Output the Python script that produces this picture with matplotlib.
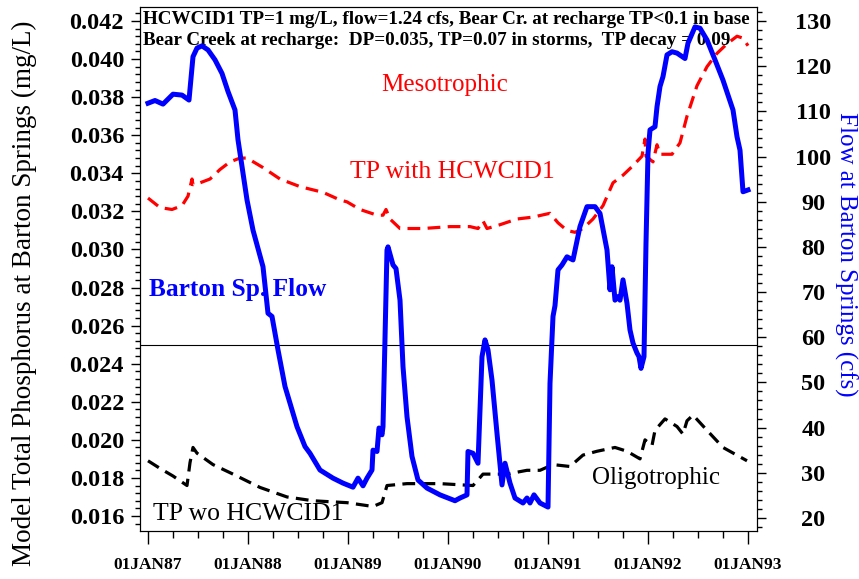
import matplotlib
matplotlib.use("Agg")
import matplotlib.pyplot as plt
from matplotlib.ticker import MultipleLocator

plt.rcParams['font.family'] = ['Liberation Serif', 'DejaVu Serif']

# Barton Springs flow (cfs), decimal years
flow_years = [1987.00, 1987.07, 1987.15, 1987.25, 1987.34, 1987.41, 1987.45, 1987.49, 1987.54, 1987.60,
              1987.67, 1987.74, 1987.80, 1987.87, 1987.90, 1987.94, 1987.99, 1988.05, 1988.15, 1988.20,
              1988.24, 1988.30, 1988.37, 1988.42, 1988.49, 1988.57, 1988.62, 1988.72, 1988.85, 1988.95,
              1989.05, 1989.10, 1989.15, 1989.19, 1989.24, 1989.25, 1989.29, 1989.31, 1989.34, 1989.35,
              1989.39, 1989.40, 1989.45, 1989.48, 1989.52, 1989.55, 1989.59, 1989.64, 1989.70, 1989.79,
              1989.92, 1990.07, 1990.12, 1990.19, 1990.20, 1990.25, 1990.30, 1990.34, 1990.37, 1990.40,
              1990.44, 1990.49, 1990.54, 1990.57, 1990.62, 1990.67, 1990.75, 1990.79, 1990.82, 1990.86,
              1990.92, 1991.00, 1991.02, 1991.05, 1991.07, 1991.10, 1991.14, 1991.19, 1991.25, 1991.32,
              1991.39, 1991.47, 1991.52, 1991.59, 1991.62, 1991.64, 1991.67, 1991.70, 1991.72, 1991.75,
              1991.79, 1991.82, 1991.85, 1991.89, 1991.91, 1991.93, 1991.96, 1991.98, 1992.00, 1992.02,
              1992.07, 1992.09, 1992.12, 1992.15, 1992.19, 1992.24, 1992.29, 1992.37, 1992.40, 1992.47,
              1992.52, 1992.59, 1992.67, 1992.75, 1992.85, 1992.89, 1992.92, 1992.95, 1993.00]
flow_cfs = [111.8, 112.4, 111.6, 113.8, 113.6, 112.5, 122.1, 124.0, 124.5, 123.6,
            121.4, 118.4, 114.4, 110.3, 103.7, 97.8, 90.4, 83.7, 75.6, 65.3,
            64.6, 57.2, 49.1, 45.4, 40.2, 35.8, 34.3, 30.6, 28.8, 27.7,
            26.8, 28.8, 27.1, 28.8, 30.6, 35.0, 34.7, 39.9, 38.4, 40.2,
            79.3, 80.0, 76.0, 75.2, 68.2, 53.5, 42.4, 33.6, 28.4, 26.6,
            25.1, 23.8, 24.4, 25.1, 34.7, 34.3, 32.1, 55.7, 59.4, 57.2,
            50.5, 38.7, 27.3, 32.1, 27.7, 24.4, 23.3, 24.4, 23.3, 25.1,
            23.3, 22.4, 49.8, 64.6, 67.0, 74.9, 76.0, 77.8, 77.1, 84.5,
            88.9, 88.9, 87.4, 79.3, 70.5, 75.6, 68.2, 69.0, 68.2, 72.7,
            67.5, 61.6, 58.7, 56.5, 55.7, 53.1, 55.7, 80.8, 100.7, 105.9,
            106.6, 111.0, 115.5, 117.7, 122.5, 123.2, 122.9, 121.7, 125.1, 128.7,
            128.4, 125.8, 121.4, 116.9, 110.3, 104.4, 101.4, 92.2, 92.6]

# TP with HCWCID1 (mg/L)
tp_with_years = [1987.00, 1987.12, 1987.24, 1987.34, 1987.40, 1987.44, 1987.45, 1987.52, 1987.62, 1987.72,
                 1987.82, 1987.92, 1987.99, 1988.15, 1988.32, 1988.52, 1988.75, 1988.92, 1988.99, 1989.12,
                 1989.29, 1989.35, 1989.38, 1989.42, 1989.52, 1989.75, 1990.02, 1990.22, 1990.30, 1990.35,
                 1990.39, 1990.52, 1990.69, 1990.85, 1991.02, 1991.10, 1991.19, 1991.27, 1991.35, 1991.45,
                 1991.55, 1991.65, 1991.75, 1991.85, 1991.94, 1991.97, 1991.98, 1992.05, 1992.09, 1992.12,
                 1992.24, 1992.32, 1992.39, 1992.49, 1992.59, 1992.69, 1992.79, 1992.89, 1992.95, 1993.00]
tp_with = [0.0327, 0.0322, 0.0321, 0.0323, 0.0328, 0.0337, 0.0334, 0.0335, 0.0337, 0.0342,
           0.0346, 0.0348, 0.0348, 0.0343, 0.0337, 0.0333, 0.0330, 0.0326, 0.0325, 0.0321,
           0.0318, 0.0318, 0.0321, 0.0316, 0.0311, 0.0311, 0.0312, 0.0312, 0.0311, 0.0315,
           0.0311, 0.0313, 0.0316, 0.0317, 0.0319, 0.0314, 0.0310, 0.0309, 0.0311, 0.0316,
           0.0323, 0.0335, 0.0339, 0.0344, 0.0349, 0.0358, 0.0349, 0.0346, 0.0355, 0.0350,
           0.0350, 0.0356, 0.0370, 0.0386, 0.0396, 0.0403, 0.0408, 0.0412, 0.0411, 0.0407]

# TP without HCWCID1 (mg/L)
tp_wo_years = [1987.00, 1987.12, 1987.25, 1987.39, 1987.42, 1987.45, 1987.49, 1987.65, 1987.85, 1988.12,
               1988.39, 1988.65, 1988.99, 1989.25, 1989.34, 1989.39, 1989.59, 1989.92, 1990.25, 1990.35,
               1990.59, 1990.79, 1990.92, 1991.05, 1991.22, 1991.35, 1991.49, 1991.67, 1991.79, 1991.92,
               1991.97, 1992.04, 1992.07, 1992.17, 1992.29, 1992.35, 1992.39, 1992.45, 1992.59, 1992.75,
               1992.99]
tp_wo = [0.0189, 0.0185, 0.0181, 0.0176, 0.0188, 0.0196, 0.0193, 0.0187, 0.0182, 0.0175,
         0.0170, 0.0168, 0.0167, 0.0165, 0.0167, 0.0176, 0.0177, 0.0177, 0.0176, 0.0182,
         0.0182, 0.0184, 0.0184, 0.0187, 0.0186, 0.0192, 0.0194, 0.0196, 0.0194, 0.0190,
         0.0200, 0.0197, 0.0205, 0.0211, 0.0207, 0.0203, 0.0210, 0.0213, 0.0205, 0.0196,
         0.0189]

year_ticks = [1987, 1988, 1989, 1990, 1991, 1992, 1993]
year_labels = ['01JAN87', '01JAN88', '01JAN89', '01JAN90', '01JAN91', '01JAN92', '01JAN93']
tp_ticks = [0.016 + 0.002 * i for i in range(14)]
flow_ticks = list(range(20, 140, 10))

header1 = "HCWCID1 TP=1 mg/L, flow=1.24 cfs, Bear Cr. at recharge TP<0.1 in base"
header2 = "Bear Creek at recharge:  DP=0.035, TP=0.07 in storms,  TP decay = 0.09"

fig = plt.figure(figsize=(8.59, 5.79), dpi=100)
ax = fig.add_axes([140/859, 48/579, 617/859, 524/579])
ax2 = ax.twinx()

ax.plot(tp_with_years, tp_with, color='red', lw=2.3, ls=(0, (4, 2.3)), zorder=3)
ax.plot(tp_wo_years, tp_wo, color='black', lw=2.3, ls=(0, (4, 2.3)), zorder=3)
ax.axhline(0.025, color='black', lw=0.8, zorder=2)
ax2.plot(flow_years, flow_cfs, color='blue', lw=3.6, solid_joinstyle='round')

ax.set_xlim(1986.92, 1993.09)
ax.set_ylim(0.015212, 0.042735)
ax2.set_ylim(17.1, 133.1)

ax.set_xticks(year_ticks)
ax.set_xticklabels(year_labels, fontsize=12.5, fontweight='bold')
ax.xaxis.set_minor_locator(MultipleLocator(0.25))
ax.set_yticks(tp_ticks)
ax.set_yticklabels(['%.3f' % t for t in tp_ticks], fontsize=17.5, fontweight='bold')
ax.yaxis.set_minor_locator(MultipleLocator(0.0004))
ax2.set_yticks(flow_ticks)
ax2.set_yticklabels([str(f) for f in flow_ticks], fontsize=17.5, fontweight='bold')
ax2.yaxis.set_minor_locator(MultipleLocator(2))
for lbl in ax2.get_yticklabels():
    lbl.set_ha('center')

ax.tick_params(axis='x', which='major', direction='out', length=9.5, width=1, pad=9)
ax.tick_params(axis='x', which='minor', direction='out', length=5, width=1)
ax.tick_params(axis='y', which='major', direction='out', length=6.5, width=1, pad=5)
ax.tick_params(axis='y', which='minor', direction='out', length=3.6, width=1)
ax2.tick_params(axis='y', which='major', direction='out', length=6.5, width=1, pad=34)
ax2.tick_params(axis='y', which='minor', direction='out', length=3.6, width=1)

ax.text(0.005, 0.977, header1, transform=ax.transAxes, fontsize=13.8, fontweight='bold',
        ha='left', va='center', zorder=1)
ax.text(0.005, 0.937, header2, transform=ax.transAxes, fontsize=13.8, fontweight='bold',
        ha='left', va='center', zorder=1)
ax.text(0.494, 0.851, 'Mesotrophic', transform=ax.transAxes, fontsize=18, color='red',
        ha='center', va='center')
ax.text(0.507, 0.685, 'TP with HCWCID1', transform=ax.transAxes, fontsize=18.5, color='red',
        ha='center', va='center')
ax.text(0.0146, 0.46, 'Barton Sp. Flow', transform=ax.transAxes, fontsize=18.3, color='blue',
        fontweight='bold', ha='left', va='center')
ax.text(0.836, 0.101, 'Oligotrophic', transform=ax.transAxes, fontsize=18, color='black',
        ha='center', va='center')
ax.text(0.021, 0.032, 'TP wo HCWCID1', transform=ax.transAxes, fontsize=18.5, color='black',
        ha='left', va='center')

fig.text(24/859, 1 - 293/579, 'Model Total Phosphorus at Barton Springs (mg/L)', fontsize=19.5,
         rotation=90, ha='center', va='center')
fig.text(846/859, 1 - 254/579, 'Flow at Barton Springs (cfs)', fontsize=18, color='blue',
         rotation=270, ha='center', va='center')

fig.savefig('out.png', dpi=100)
